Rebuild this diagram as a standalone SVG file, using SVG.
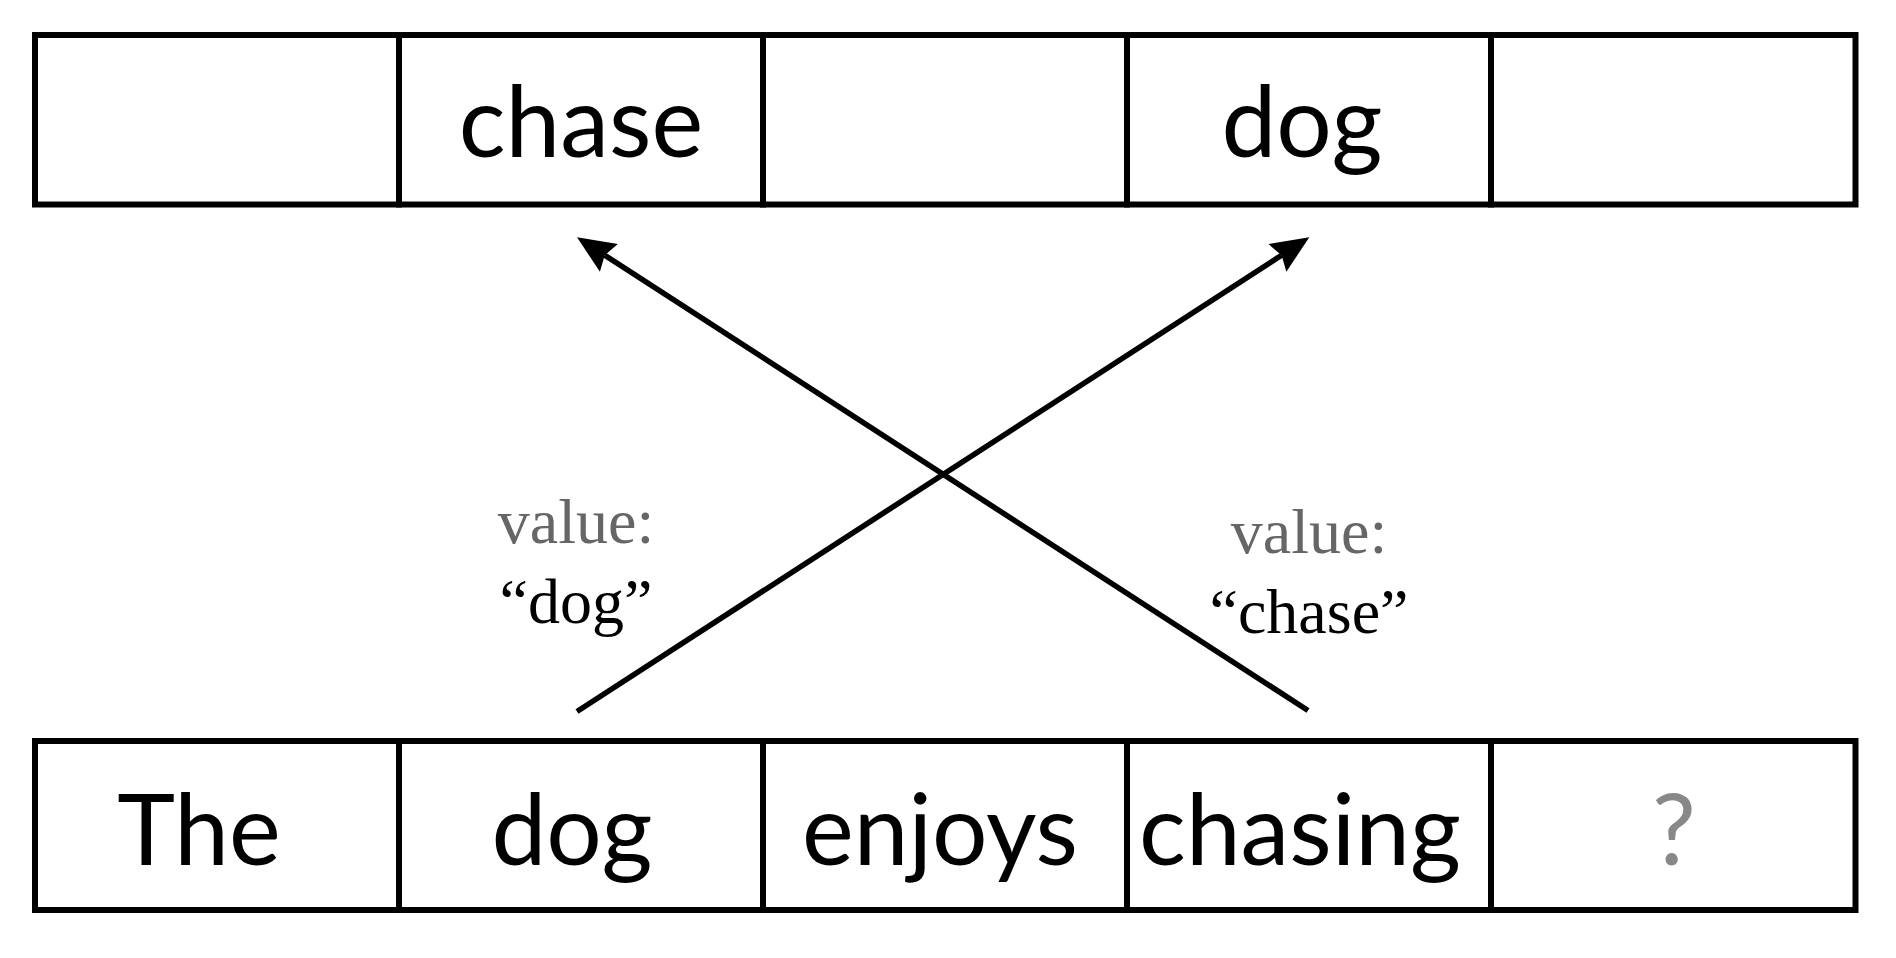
<svg xmlns="http://www.w3.org/2000/svg" width="1896" height="958" viewBox="0 0 1896 958">
<style>
.cell{fill:#fff;stroke:#000;stroke-width:6}
.word{font-family:Lato,"Open Sans",sans-serif;font-size:98px;fill:#000;text-anchor:middle}
.q{fill:#888}
.lbl{font-family:"Liberation Serif","Times New Roman",serif;font-size:64px;text-anchor:middle}
.gray{fill:#666}
.blk{fill:#000}
.conn{stroke:#000;stroke-width:5.5;fill:none;marker-end:url(#ah)}
</style>
<defs>
<marker id="ah" markerUnits="userSpaceOnUse" viewBox="-10 -20 50 40" markerWidth="50" markerHeight="40" refX="0" refY="0" orient="auto">
<path d="M33 0 L-5 -16.5 L0 0 L-5 16.5 Z" fill="#000"/>
</marker>
</defs>
<rect width="1896" height="958" fill="#fff"/>
<g id="top-row">
<g id="t1"><rect class="cell" x="35" y="35" width="364" height="169.5"/></g>
<g id="t2"><rect class="cell" x="399" y="35" width="364" height="169.5"/><text class="word" x="581" y="157">chase</text></g>
<g id="t3"><rect class="cell" x="763" y="35" width="364" height="169.5"/></g>
<g id="t4"><rect class="cell" x="1127" y="35" width="364" height="169.5"/><text class="word" x="1302" y="157">dog</text></g>
<g id="t5"><rect class="cell" x="1491" y="35" width="364.5" height="169.5"/></g>
</g>
<g id="bottom-row">
<g id="b1"><rect class="cell" x="35" y="741" width="364" height="169"/><text class="word" x="199" y="865">The</text></g>
<g id="b2"><rect class="cell" x="399" y="741" width="364" height="169"/><text class="word" x="572" y="865">dog</text></g>
<g id="b3"><rect class="cell" x="763" y="741" width="364" height="169"/><text class="word" x="940" y="865">enjoys</text></g>
<g id="b4"><rect class="cell" x="1127" y="741" width="364" height="169"/><text class="word" x="1300" y="865">chasing</text></g>
<g id="b5"><rect class="cell" x="1491" y="741" width="364.5" height="169"/><text class="word q" x="1674" y="865">?</text></g>
</g>
<g id="connectors">
<line class="conn" x1="577" y1="711.5" x2="1281.6" y2="255.2"/>
<line class="conn" x1="1308" y1="710.5" x2="604.7" y2="255.2"/>
</g>
<g id="label-dog">
<text class="lbl gray" x="576" y="543">value:</text>
<text class="lbl blk" x="576" y="623">“dog”</text>
</g>
<g id="label-chase">
<text class="lbl gray" x="1309" y="553">value:</text>
<text class="lbl blk" x="1309" y="633">“chase”</text>
</g>
</svg>
